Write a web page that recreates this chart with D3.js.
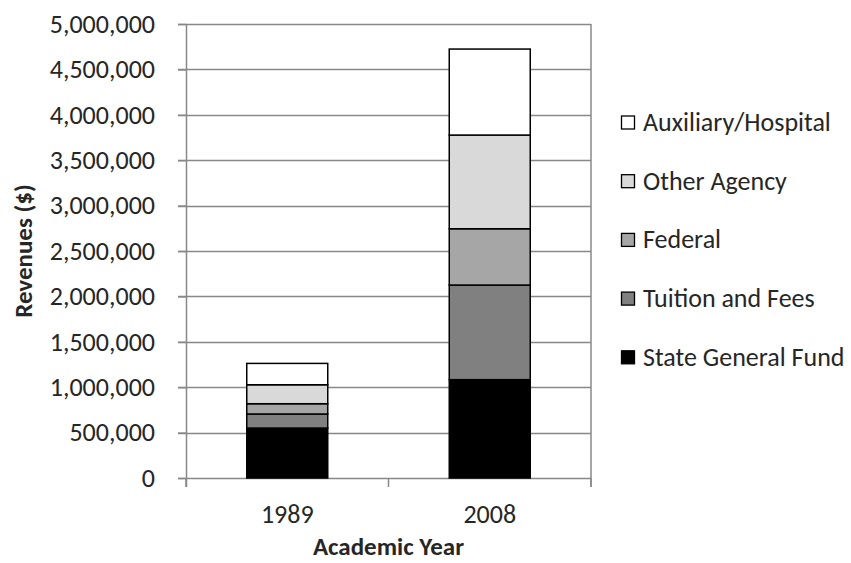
<!DOCTYPE html>
<html><head><meta charset="utf-8">
<script src="https://cdn.jsdelivr.net/npm/d3@7/dist/d3.min.js"></script>
<style>body{margin:0;background:#fff}svg{display:block}text{font-family:Carlito,Lato,"Open Sans",sans-serif;fill:#262626}</style>
</head><body>
<script>
const years = ["1989", "2008"];
const seriesNames = ["State General Fund", "Tuition and Fees", "Federal", "Other Agency", "Auxiliary/Hospital"];
const stateGeneralFund = [550000, 1083000];
const tuitionAndFees = [155000, 1042000];
const federal = [113000, 620000];
const otherAgency = [209000, 1032000];
const auxiliaryHospital = [235000, 947000];
const yTicks = [0, 500000, 1000000, 1500000, 2000000, 2500000, 3000000, 3500000, 4000000, 4500000, 5000000];
const colors = ["#000000", "#808080", "#a6a6a6", "#d9d9d9", "#ffffff"];

const seriesValues = [stateGeneralFund, tuitionAndFees, federal, otherAgency, auxiliaryHospital];
const table = years.map((y, i) => {
  const row = {year: y};
  seriesNames.forEach((s, j) => row[s] = seriesValues[j][i]);
  return row;
});

const W = 851, H = 563;
const m = {left: 186, right: 260, top: 24, bottom: 85};
const svg = d3.select("body").append("svg").attr("width", W).attr("height", H);

const x = d3.scaleBand().domain(years).range([m.left, W - m.right]).paddingInner(0.6).paddingOuter(0.3);
const y = d3.scaleLinear().domain([0, 5000000]).range([H - m.bottom, m.top]);

// gridlines
svg.append("g").selectAll("line").data(yTicks).join("line")
  .attr("x1", m.left - 8).attr("x2", W - m.right)
  .attr("y1", d => Math.round(y(d)) + 0.5).attr("y2", d => Math.round(y(d)) + 0.5)
  .attr("stroke", "#888").attr("stroke-width", 1.5);

// right border
svg.append("line").attr("x1", W - m.right).attr("x2", W - m.right)
  .attr("y1", m.top).attr("y2", H - m.bottom + 9).attr("stroke", "#888").attr("stroke-width", 1.5);

// y axis
const yAxis = svg.append("g").attr("transform", `translate(${m.left},0)`)
  .call(d3.axisLeft(y).tickValues(yTicks).tickFormat(d3.format(",")).tickSize(8).tickPadding(23));
yAxis.select(".domain").attr("stroke", "#888").attr("stroke-width", 1.5).attr("d", `M0.5,${m.top}V${H - m.bottom + 9}`);
yAxis.selectAll(".tick line").attr("stroke", "#888").attr("stroke-width", 1.5);
yAxis.selectAll("text").style("font-size", "26px").attr("fill", "#262626");

// x axis
const xAxis = svg.append("g").attr("transform", `translate(0,${Math.round(y(0)) + 0.5})`)
  .call(d3.axisBottom(x).tickSize(0).tickPadding(26));
xAxis.select(".domain").remove();
xAxis.selectAll("text").style("font-size", "26px").attr("fill", "#262626");
const bandEdges = [m.left, (m.left + W - m.right) / 2, W - m.right];
svg.append("g").selectAll("line").data(bandEdges).join("line")
  .attr("x1", d => d).attr("x2", d => d)
  .attr("y1", y(0)).attr("y2", y(0) + 9).attr("stroke", "#888").attr("stroke-width", 1.5);

// bars
const stack = d3.stack().keys(seriesNames)(table);
svg.append("g").selectAll("g").data(stack).join("g")
  .attr("fill", (d, i) => colors[i])
  .selectAll("rect").data(d => d).join("rect")
  .attr("x", d => x(d.data.year))
  .attr("width", x.bandwidth())
  .attr("y", d => y(d[1]))
  .attr("height", d => y(d[0]) - y(d[1]))
  .attr("stroke", "#000").attr("stroke-width", 1.5);

// axis titles
svg.append("text").attr("transform", `translate(32,251) rotate(-90)`)
  .attr("text-anchor", "middle").style("font-size", "25px").style("font-weight", "bold").text("Revenues ($)");
svg.append("text").attr("x", (m.left + W - m.right) / 2).attr("y", 555)
  .attr("text-anchor", "middle").style("font-size", "25px").style("font-weight", "bold").text("Academic Year");

// legend
const legendOrder = seriesNames.map((s, i) => ({name: s, color: colors[i]})).reverse();
const lg = svg.append("g").selectAll("g").data(legendOrder).join("g")
  .attr("transform", (d, i) => `translate(621,${122 + i * 58.7})`);
lg.append("rect").attr("x", 0.5).attr("y", -6).attr("width", 13).attr("height", 13)
  .attr("fill", d => d.color).attr("stroke", "#000").attr("stroke-width", 1.3);
lg.append("text").attr("x", 22).attr("y", 9).style("font-size", "26px").text(d => d.name);
</script>
</body></html>
